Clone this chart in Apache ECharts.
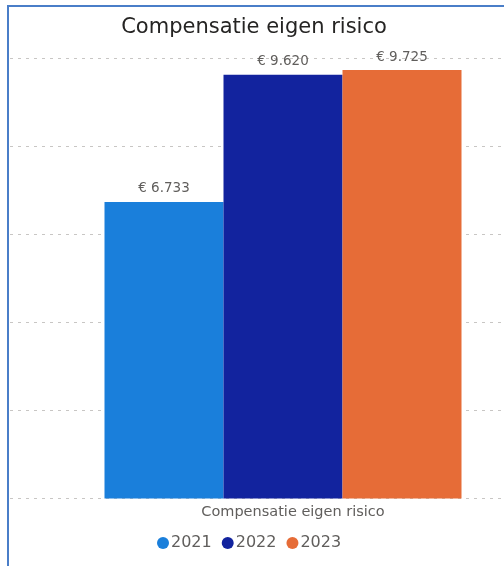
<!DOCTYPE html>
<html><head><meta charset="utf-8">
<script src="https://cdn.jsdelivr.net/npm/echarts@6/dist/echarts.min.js"></script>
<style>html,body{margin:0;padding:0;background:#fff;overflow:hidden;width:504px;height:566px;}#c{width:556px;height:566px;}</style>
</head><body><div id="c"></div>
<script>
const categories = ['Compensatie eigen risico'];
const years = ['2021', '2022', '2023'];
const values2021 = [6733];
const values2022 = [9620];
const values2023 = [9725];
const colors = ['#1A7FDB', '#12239E', '#E66C37'];

function fmt(v){ return '€ ' + String(v).replace(/\B(?=(\d{3})+(?!\d))/g, '.'); }

const seriesData = [values2021, values2022, values2023];
const chart = echarts.init(document.getElementById('c'));
chart.setOption({
  animation: false,
  title: {
    text: 'Compensatie eigen risico', left: 249, top: 12, textAlign: 'center',
    textStyle: {fontFamily: 'DejaVu Sans', fontSize: 21, fontWeight: 'normal', color: '#252423'}
  },
  legend: {
    data: years, left: 152, top: 530, icon: 'circle', itemWidth: 12, itemHeight: 12, itemGap: 10,
    textStyle: {fontFamily: 'DejaVu Sans', fontSize: 16, color: '#605E5C', padding: [0,0,0,-3]}
  },
  grid: {left: 10, right: 0, top: 58, bottom: 67.5},
  xAxis: {
    type: 'category', data: categories,
    axisLine: {show: false}, axisTick: {show: false},
    axisLabel: {fontFamily: 'DejaVu Sans', fontSize: 14.5, color: '#605E5C', margin: 6, padding: [0,0,0,20]}
  },
  yAxis: {
    type: 'value', min: 0, max: 10000, interval: 2000,
    axisLabel: {show: false}, axisLine: {show: false}, axisTick: {show: false},
    splitLine: {lineStyle: {color: '#C8C6C4', type: [3, 5], width: 1}}
  },
  series: years.map((y, i) => ({
    name: y, type: 'bar', data: seriesData[i], barWidth: 119, barGap: '0%',
    itemStyle: {color: colors[i]},
    label: {show: true, position: 'top', distance: 6, formatter: p => fmt(p.value),
      fontFamily: 'DejaVu Sans', fontSize: 13.5, color: '#605E5C'}
  })),
  graphic: [{
    type: 'polyline', shape: {points: [[8, 566], [8, 6], [556, 6]]},
    style: {stroke: '#4A7EC8', lineWidth: 2, fill: null}, z: 100
  }]
});
</script></body></html>
